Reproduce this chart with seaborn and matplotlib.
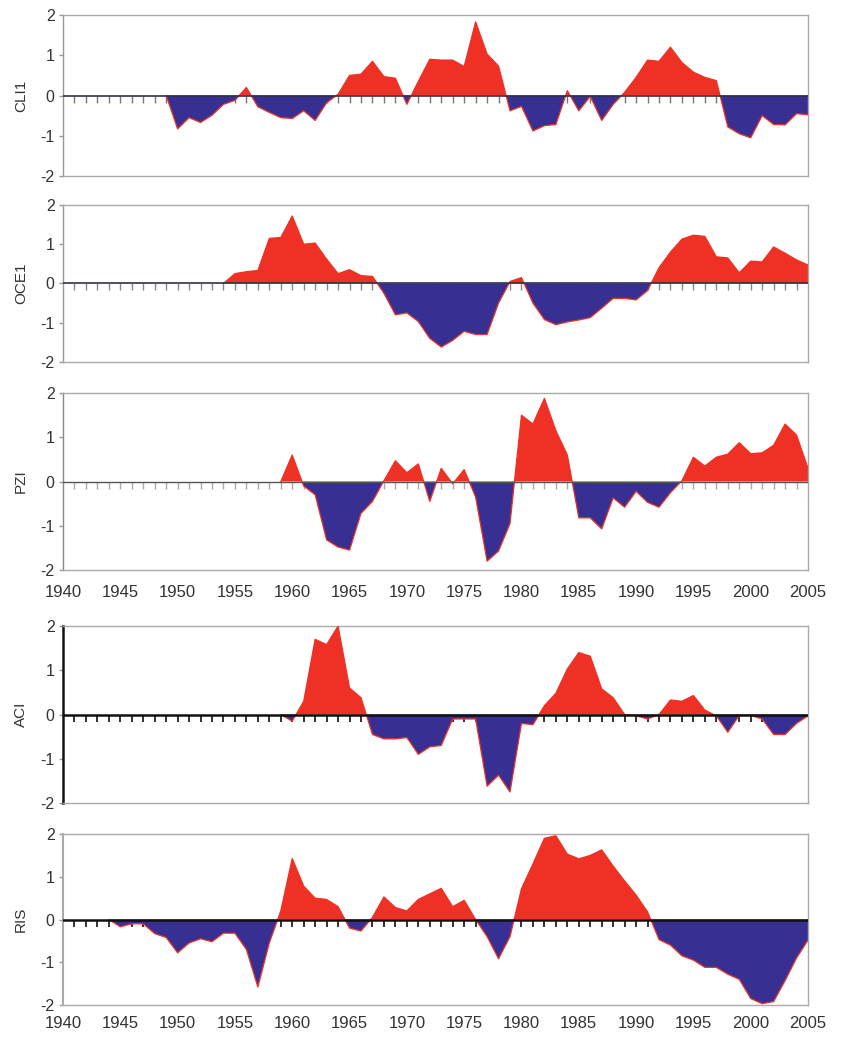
import numpy as np
import pandas as pd
import matplotlib
matplotlib.use("Agg")
import matplotlib.pyplot as plt
import seaborn as sns

sns.set_theme(style="white")
plt.rcParams["font.family"] = ["Liberation Sans", "DejaVu Sans"]

# Annual index values (standardised anomalies)
cli1_start = 1949
cli1 = [0.0, -0.83, -0.55, -0.67, -0.49, -0.22, -0.12, 0.2, -0.28, -0.42,
        -0.55, -0.57, -0.38, -0.62, -0.18, 0.03, 0.5, 0.53, 0.85, 0.47,
        0.43, -0.22, 0.35, 0.9, 0.88, 0.88, 0.72, 1.83, 1.03, 0.73,
        -0.38, -0.27, -0.88, -0.75, -0.72, 0.12, -0.38, -0.02, -0.62, -0.22,
        0.08, 0.45, 0.88, 0.85, 1.2, 0.82, 0.58, 0.45, 0.37, -0.78,
        -0.95, -1.05, -0.5, -0.72, -0.73, -0.45, -0.48]

oce1_start = 1954
oce1 = [0.0, 0.25, 0.3, 0.33, 1.15, 1.17, 1.72, 1.0, 1.03, 0.62,
        0.25, 0.35, 0.2, 0.18, -0.25, -0.8, -0.75, -0.97, -1.4, -1.62,
        -1.45, -1.22, -1.3, -1.3, -0.5, 0.05, 0.15, -0.5, -0.92, -1.05,
        -0.98, -0.93, -0.87, -0.63, -0.38, -0.38, -0.42, -0.18, 0.4, 0.8,
        1.13, 1.23, 1.2, 0.68, 0.65, 0.27, 0.57, 0.55, 0.93, 0.77,
        0.6, 0.47]

pzi_start = 1959
pzi = [0.0, 0.6, -0.1, -0.3, -1.32, -1.48, -1.55, -0.72, -0.45, 0.02,
       0.47, 0.2, 0.4, -0.45, 0.3, -0.05, 0.27, -0.35, -1.8, -1.57,
       -0.95, 1.5, 1.3, 1.88, 1.15, 0.6, -0.82, -0.82, -1.07, -0.37,
       -0.58, -0.22, -0.47, -0.58, -0.25, 0.02, 0.55, 0.35, 0.55, 0.62,
       0.88, 0.63, 0.65, 0.82, 1.3, 1.05, 0.3]

aci_start = 1959
aci = [0.0, -0.15, 0.3, 1.7, 1.58, 2.0, 0.6, 0.38, -0.45, -0.55,
       -0.55, -0.52, -0.9, -0.73, -0.7, -0.1, -0.1, -0.1, -1.62, -1.37,
       -1.75, -0.2, -0.23, 0.2, 0.48, 1.03, 1.4, 1.32, 0.58, 0.38,
       0.0, -0.03, -0.1, 0.0, 0.33, 0.3, 0.43, 0.1, -0.03, -0.4,
       -0.02, -0.02, -0.1, -0.45, -0.45, -0.2, -0.03]

ris_start = 1944
ris = [0.0, -0.17, -0.1, -0.1, -0.33, -0.42, -0.78, -0.55, -0.45, -0.52,
       -0.32, -0.32, -0.7, -1.58, -0.55, 0.2, 1.43, 0.78, 0.5, 0.47,
       0.3, -0.2, -0.27, 0.05, 0.53, 0.28, 0.2, 0.47, 0.6, 0.73,
       0.3, 0.45, 0.0, -0.4, -0.92, -0.4, 0.72, 1.3, 1.9, 1.96,
       1.53, 1.42, 1.5, 1.63, 1.25, 0.9, 0.57, 0.18, -0.47, -0.6,
       -0.85, -0.95, -1.12, -1.12, -1.28, -1.4, -1.85, -1.97, -1.92, -1.43,
       -0.9, -0.48]

names = ["CLI1", "OCE1", "PZI", "ACI", "RIS"]
starts = [cli1_start, oce1_start, pzi_start, aci_start, ris_start]
series = [cli1, oce1, pzi, aci, ris]

year_min, year_max = 1940, 2005
year_labels = list(range(1940, 2006, 5))
y_ticks = [-2, -1, 0, 1, 2]

RED = "#ee3124"
BLUE = "#372f92"

# panel rectangles in figure fractions
rects = [
    [0.0749, 0.8309, 0.8859, 0.1547],
    [0.0749, 0.6523, 0.8859, 0.1508],
    [0.0749, 0.4524, 0.8859, 0.1700],
    [0.0749, 0.2286, 0.8859, 0.1700],
    [0.0749, 0.0346, 0.8859, 0.1642],
]
show_years = [False, False, True, False, True]
year_pad = [0, 0, 11, 0, 8]
zero_style = [("#30304a", 1.2), ("#30304a", 1.2), ("#555555", 1.0),
              ("#111111", 1.8), ("#111111", 1.8)]
minor_color = ["#777777", "#888888", "#aaaaaa", "#222222", "#222222"]
left_spine = [("#999999", 1.0), ("#999999", 1.0), ("#888888", 1.0),
              ("#111111", 1.8), ("#aaaaaa", 1.5)]

fig = plt.figure(figsize=(8.41, 10.41), dpi=100)

for i, (name, start, vals) in enumerate(zip(names, starts, series)):
    ax = fig.add_axes(rects[i])
    df = pd.DataFrame({"year": np.arange(start, start + len(vals)),
                       "value": vals})
    x = df["year"].to_numpy(dtype=float)
    y = df["value"].to_numpy(dtype=float)
    ax.fill_between(x, y, 0, where=y >= 0, interpolate=True,
                    color=RED, linewidth=0, zorder=2)
    ax.fill_between(x, y, 0, where=y <= 0, interpolate=True,
                    color=BLUE, linewidth=0, zorder=2)
    sns.lineplot(data=df, x="year", y="value", ax=ax, color=RED,
                 linewidth=0.9, zorder=3)

    zc, zw = zero_style[i]
    ax.axhline(0, color=zc, linewidth=zw, zorder=4)

    ax.set_xlim(year_min, year_max)
    ax.set_ylim(-2, 2)
    ax.set_yticks(y_ticks)
    ax.set_yticklabels([str(t) for t in y_ticks])
    ax.tick_params(axis="y", which="major", direction="out", length=3,
                   width=1, color="#999999", labelsize=11.5,
                   labelcolor="#333333", pad=3, left=True)
    ax.set_ylabel(name, fontsize=11, color="#333333", labelpad=9)
    ax.set_xlabel("")

    if show_years[i]:
        ax.set_xticks(year_labels)
        ax.set_xticklabels([str(t) for t in year_labels])
        ax.tick_params(axis="x", length=0, labelsize=12,
                       labelcolor="#333333", pad=year_pad[i])
    else:
        ax.set_xticks([])

    for side in ["top", "right", "bottom"]:
        ax.spines[side].set_color("#aaaaaa")
        ax.spines[side].set_linewidth(1.0)
    lc, lw = left_spine[i]
    ax.spines["left"].set_color(lc)
    ax.spines["left"].set_linewidth(lw)

    # year ticks hanging below the zero line
    sec = ax.secondary_xaxis(0.5)
    sec.set_xticks(np.arange(year_min + 1, year_max))
    sec.set_xticklabels([])
    sec.tick_params(axis="x", direction="in", length=5,
                    width=1.3 if i >= 3 else 1.0, color=minor_color[i])
    for sp in sec.spines.values():
        sp.set_visible(False)

fig.savefig("out.png", dpi=100, facecolor="white")
